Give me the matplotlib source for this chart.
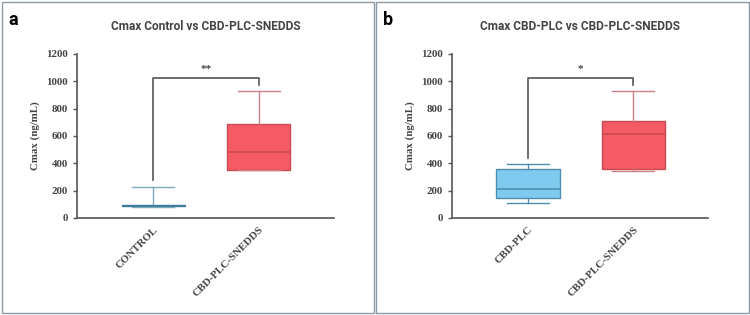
"""Cmax box plots: Control vs CBD-PLC-SNEDDS and CBD-PLC vs CBD-PLC-SNEDDS."""

import matplotlib.pyplot as plt
from matplotlib.patches import Rectangle

# box statistics (ng/mL): whislo, q1, med, q3, whishi
PANEL_A_LABELS = ["CONTROL", "CBD-PLC-SNEDDS"]
PANEL_A_LOW = [78, 350]
PANEL_A_Q1 = [85, 350]
PANEL_A_MED = [90, 485]
PANEL_A_Q3 = [95, 690]
PANEL_A_HIGH = [230, 925]

PANEL_B_LABELS = ["CBD-PLC", "CBD-PLC-SNEDDS"]
PANEL_B_LOW = [110, 345]
PANEL_B_Q1 = [145, 355]
PANEL_B_MED = [215, 615]
PANEL_B_Q3 = [355, 710]
PANEL_B_HIGH = [395, 925]

# significance bracket: start height on left, top, end height on right
BRACKET_A = [275, 1020, 970]
BRACKET_B = [440, 1020, 970]

RED_FILL = "#f45b64"
RED_EDGE = "#c94a52"
RED_WHISK = "#cf7f86"
BLUE_FILL = "#7fcbf0"
BLUE_EDGE = "#4d8fae"
TEAL = "#3d7d9b"
AXIS_GREY = "#555555"
TEXT_GREY = "#444444"

plt.rcParams["font.family"] = ["Liberation Serif", "DejaVu Serif"]
plt.rcParams["font.weight"] = "bold"
plt.rcParams["axes.labelweight"] = "bold"
plt.rcParams["text.color"] = TEXT_GREY
plt.rcParams["xtick.color"] = TEXT_GREY
plt.rcParams["ytick.color"] = TEXT_GREY
plt.rcParams["axes.labelcolor"] = TEXT_GREY


def draw_panel(ax, labels, low, q1, med, q3, high, styles, bracket, star, title):
    stats = []
    for i, lab in enumerate(labels):
        stats.append({"label": lab, "whislo": low[i], "q1": q1[i], "med": med[i],
                      "q3": q3[i], "whishi": high[i], "fliers": []})
    for i, st in enumerate(stats):
        fill, edge, whisk = styles[i]
        ax.bxp([st], positions=[i], widths=0.6, patch_artist=True, showfliers=False,
               boxprops=dict(facecolor=fill, edgecolor=edge, linewidth=1.0),
               medianprops=dict(color=edge, linewidth=1.2),
               whiskerprops=dict(color=whisk, linewidth=1.0),
               capprops=dict(color=whisk, linewidth=1.0), capwidths=0.4)

    ax.plot([0, 0, 1, 1], bracket[:1] + [bracket[1], bracket[1]] + bracket[2:],
            color="#555555", linewidth=1.2)
    ax.text(0.5, bracket[1] + 35, star, ha="center", va="bottom",
            fontsize=8, fontweight="bold", color=TEXT_GREY)

    ax.set_xlim(-0.72, 1.71)
    ax.set_ylim(0, 1200)
    ax.set_yticks(range(0, 1201, 200))
    ax.set_xticks([0, 1])
    ax.set_xticklabels(labels, rotation=45, ha="right", rotation_mode="anchor")
    ax.tick_params(axis="both", labelsize=7.8, length=3, color=AXIS_GREY, width=1)
    ax.tick_params(axis="x", length=0, pad=5)
    ax.set_ylabel("Cmax (ng/mL)", fontsize=7.8, labelpad=5)
    for side in ["top", "right"]:
        ax.spines[side].set_visible(False)
    for side in ["left", "bottom"]:
        ax.spines[side].set_color(AXIS_GREY)
        ax.spines[side].set_linewidth(1.2)
    ax.set_title(title, fontsize=8.6, fontweight="bold", color=TEXT_GREY,
                 family=["Roboto", "DejaVu Sans"], pad=17)


def main() -> None:
    fig = plt.figure(figsize=(7.5, 3.15), dpi=100)

    # panel frames
    for x0 in [0.002, 0.501]:
        fig.add_artist(Rectangle((x0, 0.005), 0.497, 0.99, transform=fig.transFigure,
                                 fill=False, edgecolor="#8a9aa6", linewidth=1.0))

    ax_a = fig.add_axes([0.103, 0.308, 0.342, 0.521])
    ax_b = fig.add_axes([0.603, 0.308, 0.341, 0.521])

    draw_panel(ax_a, PANEL_A_LABELS, PANEL_A_LOW, PANEL_A_Q1, PANEL_A_MED, PANEL_A_Q3,
               PANEL_A_HIGH, [(TEAL, TEAL, "#7fa9bd"), (RED_FILL, RED_EDGE, RED_WHISK)],
               BRACKET_A, "**", "Cmax Control vs CBD-PLC-SNEDDS")
    draw_panel(ax_b, PANEL_B_LABELS, PANEL_B_LOW, PANEL_B_Q1, PANEL_B_MED, PANEL_B_Q3,
               PANEL_B_HIGH, [(BLUE_FILL, BLUE_EDGE, BLUE_EDGE), (RED_FILL, RED_EDGE, RED_WHISK)],
               BRACKET_B, "*", "Cmax CBD-PLC vs CBD-PLC-SNEDDS")

    label_font = ["Roboto", "DejaVu Sans"]
    fig.text(0.011, 0.92, "a", fontsize=13, fontweight="bold", color="black", family=label_font)
    fig.text(0.510, 0.92, "b", fontsize=13, fontweight="bold", color="black", family=label_font)

    fig.savefig("out.png", dpi=100)
    plt.close(fig)


if __name__ == "__main__":
    main()
